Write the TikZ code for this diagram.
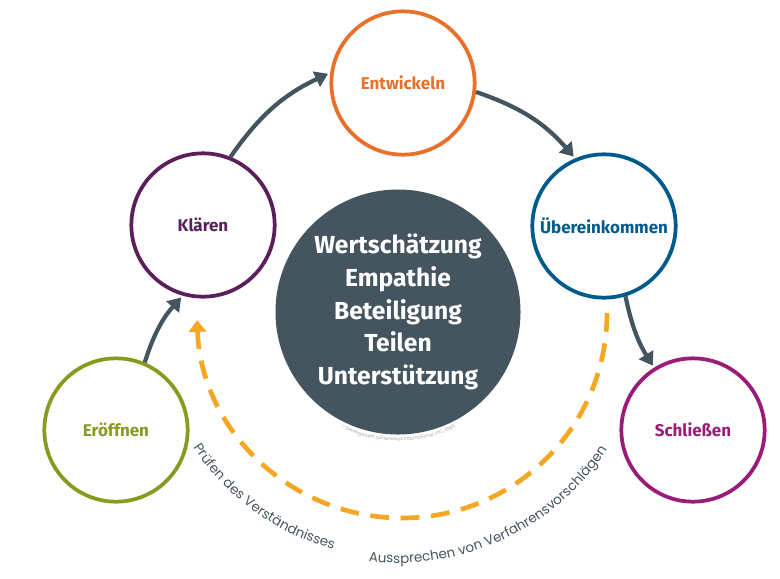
\documentclass[tikz,border=0pt]{standalone}
\usepackage{fontspec}
\setmainfont{Poppins}
\newfontfamily\labelfont{Fira Sans}
\usetikzlibrary{arrows.meta, decorations.text}
\definecolor{slate}{HTML}{45555F}
\definecolor{orng}{HTML}{E8702A}
\definecolor{plum}{HTML}{5B1F5B}
\definecolor{navy}{HTML}{005A8C}
\definecolor{olive}{HTML}{8A9A1F}
\definecolor{berry}{HTML}{9B1B7A}
\definecolor{amber}{HTML}{F5A623}

\begin{document}
\begin{tikzpicture}[
    x=0.03cm, y=-0.03cm,
    stage/.style={circle, draw=#1, line width=3.2pt, fill=white, inner sep=0pt, minimum size=4.3cm, text=#1, font=\labelfont\bfseries\fontsize{14.5}{16}\selectfont},
    flow/.style={draw=slate, line width=3.6pt, -{Triangle[length=11pt, width=14pt]}, shorten >=2pt}
]
    \useasboundingbox (0,0) rectangle (780,578);
    \node [circle, fill=slate, inner sep=0pt, minimum size=7.35cm, text=white, align=center,
        font=\labelfont\bfseries\fontsize{21}{28}\selectfont] (core) at (398,312)
        {Wertschätzung\\Empathie\\Beteiligung\\Teilen\\Unterstützung};
    \node [stage=orng] (entw) at (403,83) {Entwickeln};
    \node [stage=plum] (klar) at (203,225) {Klären};
    \node [stage=navy] (uber) at (604,226) {Übereinkommen};
    \node [stage=olive] (eroe) at (116,430) {Eröffnen};
    \node [stage=berry] (schl) at (693,430) {Schließen};

    \draw [flow] (eroe.67) to[bend left=12] (klar.-106);
    \draw [flow] (klar.68) to[bend left=15] (entw.172);
    \draw [flow] (entw.-7) to[bend left=15] (uber.113);
    \draw [flow] (uber.-73) to[bend right=10] (schl.122);

    % feedback loop
    \coordinate (loopstart) at (607,313);
    \draw [amber, line width=4pt, dash pattern=on 16pt off 10pt, -{Triangle[length=10pt, width=15pt]}]
        (loopstart) arc[start angle=0, end angle=178, radius=205];

    % curved captions
    \path [decorate, decoration={text along path, text color=slate, text align=center,
        text={|\fontsize{11.5}{11}\selectfont|Prüfen des Verständnisses}}]
        (398,313) ++(150:245) arc[start angle=150, end angle=102, radius=245];
    \path [decorate, decoration={text along path, text color=slate, text align=center,
        text={|\fontsize{11.5}{11}\selectfont|Aussprechen von Verfahrensvorschlägen}}]
        (398,313) ++(100:250) arc[start angle=100, end angle=30, radius=250];
    \path [decorate, decoration={text along path, text color=gray!70, text align=center,
        text={|\fontsize{4}{4}\selectfont|© Development Dimensions International, Inc., 1986.}}]
        (398,313) ++(125:128) arc[start angle=125, end angle=55, radius=128];
\end{tikzpicture}
\end{document}
